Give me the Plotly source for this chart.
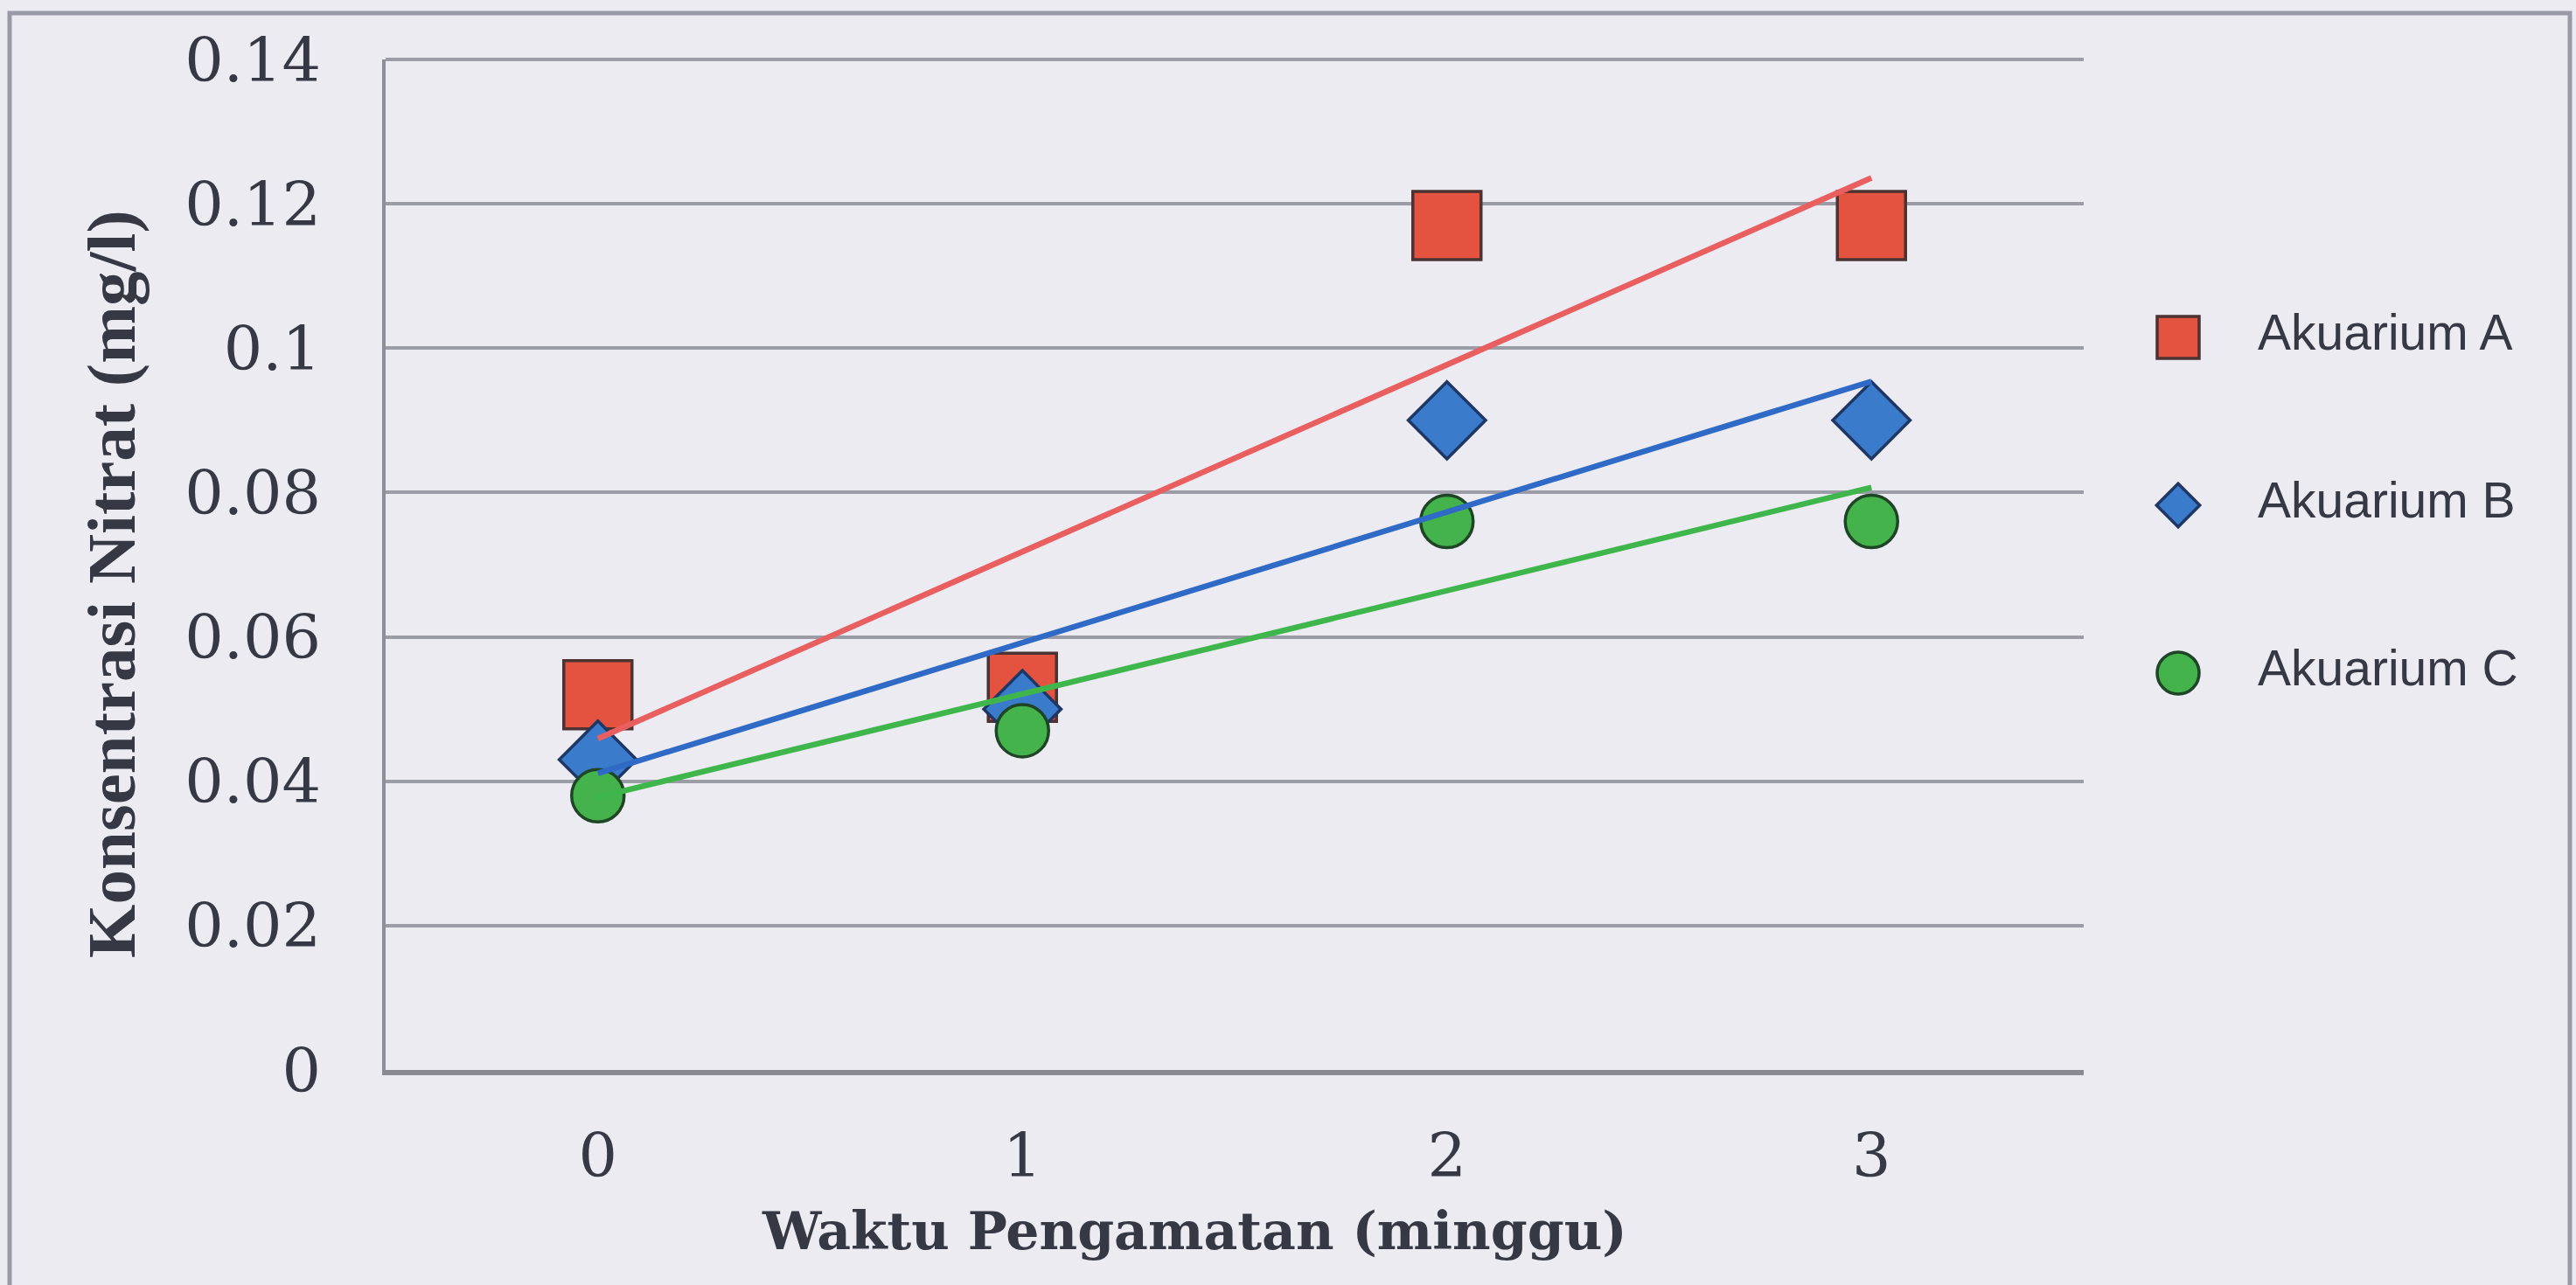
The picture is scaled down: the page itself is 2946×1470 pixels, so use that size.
import numpy as np
import plotly.graph_objects as go

# ---- data -------------------------------------------------------------
weeks = [0, 1, 2, 3]
week_labels = ["0", "1", "2", "3"]
series_names = ["Akuarium A", "Akuarium B", "Akuarium C"]
nitrate_a = [0.052, 0.053, 0.117, 0.117]
nitrate_b = [0.043, 0.050, 0.090, 0.090]
nitrate_c = [0.038, 0.047, 0.076, 0.076]
y_tick_vals = [0, 0.02, 0.04, 0.06, 0.08, 0.1, 0.12, 0.14]
y_tick_text = ["0", "0.02", "0.04", "0.06", "0.08", "0.1", "0.12", "0.14"]

# ---- styling ----------------------------------------------------------
W, H = 2946, 1470
PLOT_L, PLOT_R, PLOT_T, PLOT_B = 441, 2383, 68, 1224
BG = "#ECEBF2"
GRID = "#9C9CA6"
TEXT = "#363943"

styles = [
    dict(symbol="square", size=78, fill="#E4533F", edge="#4A3332", line="#E95E5F",
         leg_size=48),
    dict(symbol="diamond", size=68, fill="#3A7CCB", edge="#1F3765", line="#2E6AC6",
         leg_size=38),
    dict(symbol="circle", size=60, fill="#45B34B", edge="#1F4527", line="#3FB64C",
         leg_size=48),
]
series_values = [nitrate_a, nitrate_b, nitrate_c]


def px_x(p):
    return p / W


def px_y(p):
    return (H - p) / H


fig = go.Figure()

# observed concentrations
for name, vals, st in zip(series_names, series_values, styles):
    fig.add_trace(go.Scatter(
        x=weeks, y=vals, mode="markers", name=name, showlegend=False,
        marker=dict(symbol=st["symbol"], size=st["size"], color=st["fill"],
                    line=dict(color=st["edge"], width=3.5)),
        xaxis="x", yaxis="y",
    ))

# linear trend lines fitted to each series
for name, vals, st in zip(series_names, series_values, styles):
    slope, intercept = np.polyfit(weeks, vals, 1)
    xs = [weeks[0], weeks[-1]]
    fig.add_trace(go.Scatter(
        x=xs, y=[intercept + slope * v for v in xs], mode="lines",
        name=name + " (linear)", showlegend=False,
        line=dict(color=st["line"], width=6.5),
        xaxis="x", yaxis="y",
    ))

# legend column on the right
for i, (name, st) in enumerate(zip(series_names, styles)):
    fig.add_trace(go.Scatter(
        x=[0], y=[i], mode="markers", showlegend=False, hoverinfo="skip",
        marker=dict(symbol=st["symbol"], size=st["leg_size"], color=st["fill"],
                    line=dict(color=st["edge"], width=3.5)),
        xaxis="x2", yaxis="y2",
    ))
fig.add_trace(go.Scatter(
    x=[1.82] * len(series_names), y=list(range(len(series_names))),
    mode="text", text=series_names, textposition="middle right",
    textfont=dict(family="Liberation Sans, Arial, sans-serif", size=57, color=TEXT),
    showlegend=False, hoverinfo="skip", xaxis="x2", yaxis="y2",
))

tick_font = dict(family="DejaVu Serif, serif", size=70, color=TEXT)

fig.update_layout(
    width=W, height=H,
    margin=dict(l=0, r=0, t=0, b=0, autoexpand=False),
    paper_bgcolor=BG, plot_bgcolor=BG,
    showlegend=False,
    xaxis=dict(
        domain=[px_x(PLOT_L), px_x(PLOT_R)], range=[-0.5, 3.5],
        tickvals=weeks, ticktext=week_labels, tickfont=tick_font,
        showgrid=False, zeroline=False, ticks="",
        showline=True, linecolor="#8A8A93", linewidth=6,
        ticklabelstandoff=32, fixedrange=True, automargin=False,
    ),
    yaxis=dict(
        domain=[px_y(PLOT_B), px_y(PLOT_T)], range=[0, 0.14],
        tickvals=y_tick_vals, ticktext=y_tick_text, tickfont=tick_font,
        showgrid=True, gridcolor=GRID, gridwidth=4, zeroline=False, ticks="",
        showline=True, linecolor="#8E8E98", linewidth=4,
        ticklabelstandoff=56, fixedrange=True, automargin=False,
    ),
    xaxis2=dict(
        domain=[px_x(2441), 1.0], range=[-1, (W - 2491) / 50.0],
        visible=False, fixedrange=True, automargin=False,
    ),
    yaxis2=dict(
        domain=[px_y(866), px_y(290)], range=[2.5, -0.5],
        visible=False, fixedrange=True, automargin=False,
    ),
    annotations=[
        dict(text="Konsentrasi Nitrat (mg/l)", textangle=-90,
             xref="paper", yref="paper", x=px_x(127), y=px_y(668),
             xanchor="center", yanchor="middle", showarrow=False,
             font=dict(family="Liberation Serif, Times New Roman, serif",
                       size=79, color=TEXT, weight="bold")),
        dict(text="Waktu Pengamatan (minggu)",
             xref="paper", yref="paper", x=px_x(1366), y=px_y(1408),
             xanchor="center", yanchor="middle", showarrow=False,
             font=dict(family="DejaVu Serif, serif", size=60, color=TEXT,
                       weight="bold")),
    ],
    shapes=[
        # top gridline along the upper edge of the plot area
        dict(type="line", xref="paper", yref="paper",
             x0=px_x(PLOT_L), x1=px_x(PLOT_R), y0=px_y(PLOT_T), y1=px_y(PLOT_T),
             line=dict(color=GRID, width=4), layer="below"),
        dict(type="rect", xref="paper", yref="paper",
             x0=px_x(11), x1=px_x(2939), y0=-0.05, y1=px_y(15),
             line=dict(color="#9A9AA6", width=5), layer="below"),
    ],
)

fig.write_html("out.html")
